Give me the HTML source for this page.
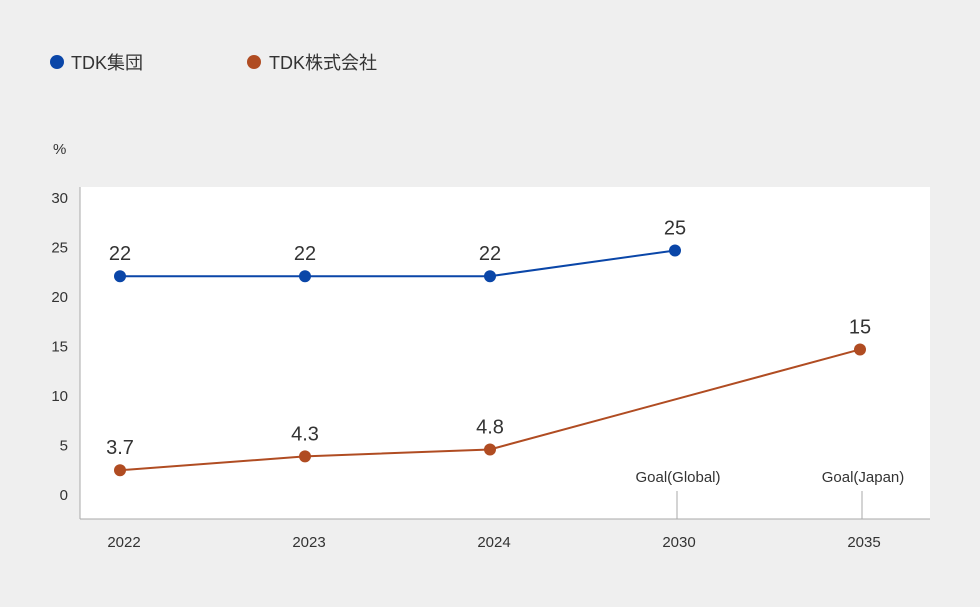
<!DOCTYPE html>
<html><head><meta charset="utf-8"><style>
body{margin:0;width:980px;height:607px;background:#efefef;overflow:hidden;font-family:"Liberation Sans","Noto Sans CJK JP",sans-serif;}
svg{display:block}
text{font-family:"Liberation Sans","Noto Sans CJK JP",sans-serif;fill:#333}
</style></head><body>
<svg width="980" height="607">
<g>
<circle cx="57" cy="62" r="7" fill="#0a46a8"/>
<text x="71" y="69" font-size="18">TDK集団</text>
<circle cx="254" cy="62" r="7" fill="#b04c22"/>
<text x="269" y="69" font-size="18">TDK株式会社</text>
</g>
<text x="53" y="154" font-size="15">%</text>
<rect x="80" y="187" width="850" height="332" fill="#fff"/>
<line x1="80" y1="187" x2="80" y2="519" stroke="#aaa"/>
<line x1="80" y1="519" x2="930" y2="519" stroke="#aaa"/>
<g id="yt"></g><g id="xt"></g><g id="series"></g>
</svg>
<script>
const categories=["2022","2023","2024","2030","2035"];
const yTicks=[0,5,10,15,20,25,30];
const groupValues=[22,22,22,24.6];
const groupLabels=["22","22","22","25"];
const companyValues=[2.4,3.8,4.5,null,14.6];
const companyLabels=["3.7","4.3","4.8","","15"];
const goalLabels=["","","","Goal(Global)","Goal(Japan)"];
const NS="http://www.w3.org/2000/svg";
const xPos=[120,305,490,675,860];
function X(i){return xPos[i];}
function Y(v){return 494-v*9.9;}
function mk(tag,attrs,parent){const e=document.createElementNS(NS,tag);for(const k in attrs)e.setAttribute(k,attrs[k]);parent.appendChild(e);return e;}
const yt=document.getElementById('yt'),xt=document.getElementById('xt'),sg=document.getElementById('series');
yTicks.forEach(v=>{const t=mk('text',{x:68,y:Y(v)+6,'font-size':15,'text-anchor':'end'},yt);

t.textContent=v;});
categories.forEach((c,i)=>{const t=mk('text',{x:X(i)+4,y:547,'font-size':15,'text-anchor':'middle'},xt);

t.textContent=c;
if(goalLabels[i]){const g=mk('text',{x:X(i)+3,y:482,'font-size':15,'text-anchor':'middle'},xt);

g.textContent=goalLabels[i];
const l=mk('line',{x1:X(i)+2,x2:X(i)+2,y1:491,y2:519,stroke:'#aaa'},xt);

}});
function series(vals,labels,color,name){
const pts=[];vals.forEach((v,i)=>{if(v!=null)pts.push([X(i),Y(v),labels[i]]);});
const p=mk('polyline',{points:pts.map(p=>p[0]+','+p[1]).join(' '),fill:'none',stroke:color,'stroke-width':2},sg);


pts.forEach(q=>{const c=mk('circle',{cx:q[0],cy:q[1],r:6,fill:color},sg);


const t=mk('text',{x:q[0],y:q[1]-16,'font-size':20,'text-anchor':'middle'},sg);

t.textContent=q[2];});}
series(groupValues,groupLabels,'#0a46a8','group');
series(companyValues,companyLabels,'#b04c22','company');
</script>
</body></html>
